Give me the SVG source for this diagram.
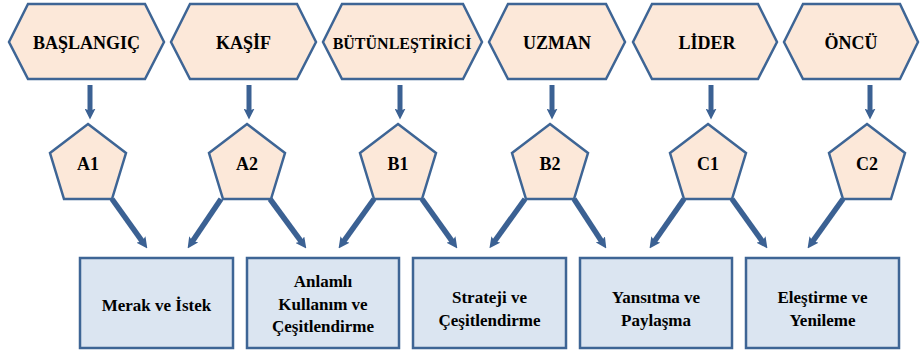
<svg xmlns="http://www.w3.org/2000/svg" width="921" height="353" viewBox="0 0 921 353">
<style>
.hex{fill:#fce8d9;stroke:#3e6595;stroke-width:2.5;stroke-linejoin:miter}
.pent{fill:#fce8d9;stroke:#3e6595;stroke-width:2.5}
.box{fill:#dbe5f1;stroke:#3e6595;stroke-width:2.5}
.c{fill:none;stroke:#3b6193;stroke-width:5.5;marker-end:url(#ah)}
.d{fill:none;stroke:#3b6193;stroke-width:5;marker-end:url(#ah)}
</style>
<defs>
<marker id="ah" viewBox="0 0 10 10" refX="4" refY="5" markerWidth="11" markerHeight="11" markerUnits="userSpaceOnUse" orient="auto">
<path d="M0,0 L10,5 L0,10 L2,5 z" fill="#3b6193"/>
</marker>
</defs>
<g id="connectors">
<line class="d" x1="90" y1="85" x2="90" y2="113"/>
<line class="d" x1="249" y1="85" x2="249" y2="113"/>
<line class="d" x1="400" y1="85" x2="400" y2="113"/>
<line class="d" x1="552" y1="85" x2="552" y2="113"/>
<line class="d" x1="711" y1="85" x2="711" y2="113"/>
<line class="d" x1="870" y1="85" x2="870" y2="113"/>
<line class="c" x1="112" y1="199" x2="143.5" y2="243.1"/>
<line class="c" x1="221" y1="199" x2="191.3" y2="243"/>
<line class="c" x1="270" y1="199" x2="302.4" y2="243.2"/>
<line class="c" x1="374" y1="199" x2="342.4" y2="243.1"/>
<line class="c" x1="422" y1="199" x2="453.5" y2="243.1"/>
<line class="c" x1="525" y1="199" x2="493.3" y2="243"/>
<line class="c" x1="574" y1="199" x2="602.7" y2="243"/>
<line class="c" x1="684" y1="199" x2="653.3" y2="243"/>
<line class="c" x1="732" y1="199" x2="763.6" y2="243.1"/>
<line class="c" x1="843" y1="199" x2="811.4" y2="243.1"/>
</g>
<g font-family="Liberation Serif, Tinos, Times New Roman, DejaVu Serif, serif" font-weight="bold" fill="#000" text-anchor="middle">
<g id="hex-baslangic"><polygon class="hex" points="9,42 28,4 145,4 164,42 145,79 28,79"/><text font-size="18" x="86.5" y="49">BAŞLANGIÇ</text></g>
<g id="hex-kasif"><polygon class="hex" points="171,42 190,4 297,4 316,42 297,79 190,79"/><text font-size="18" x="243.5" y="49">KAŞİF</text></g>
<g id="hex-butunlestirici"><polygon class="hex" points="323,42 342,4 463,4 482,42 463,79 342,79"/><text font-size="16" x="402" y="49">BÜTÜNLEŞTİRİCİ</text></g>
<g id="hex-uzman"><polygon class="hex" points="489,42 508,4 606,4 625,42 606,79 508,79"/><text font-size="18" x="557" y="49">UZMAN</text></g>
<g id="hex-lider"><polygon class="hex" points="633,42 652,4 758,4 777,42 758,79 652,79"/><text font-size="18" x="707" y="49">LİDER</text></g>
<g id="hex-oncu"><polygon class="hex" points="784,42 803,4 900,4 918,42 900,79 803,79"/><text font-size="18" x="851" y="49">ÖNCÜ</text></g>
<g id="pent-a1"><polygon class="pent" points="88,124 126,153 112,199 64,199 50,153"/><text font-size="18" x="88" y="170">A1</text></g>
<g id="pent-a2"><polygon class="pent" points="247,124 285,153 271,199 223,199 209,153"/><text font-size="18" x="247" y="170">A2</text></g>
<g id="pent-b1"><polygon class="pent" points="398,124 436,153 422,199 374,199 360,153"/><text font-size="18" x="398" y="170">B1</text></g>
<g id="pent-b2"><polygon class="pent" points="550,124 588,153 574,199 526,199 512,153"/><text font-size="18" x="550" y="170">B2</text></g>
<g id="pent-c1"><polygon class="pent" points="708,124 746,153 732,199 684,199 670,153"/><text font-size="18" x="708" y="170">C1</text></g>
<g id="pent-c2"><polygon class="pent" points="867,124 905,153 891,199 843,199 829,153"/><text font-size="18" x="867" y="170">C2</text></g>
<g id="box-merak"><rect class="box" x="80" y="258" width="153" height="90"/><text font-size="17" x="156.5" y="311">Merak ve İstek</text></g>
<g id="box-anlamli"><rect class="box" x="247" y="258" width="152" height="90"/><text font-size="17" x="323" y="287">Anlamlı</text><text font-size="17" x="323" y="310">Kullanım ve</text><text font-size="17" x="323" y="332">Çeşitlendirme</text></g>
<g id="box-strateji"><rect class="box" x="413" y="258" width="153" height="90"/><text font-size="17" x="489.5" y="303">Strateji ve</text><text font-size="17" x="489.5" y="326">Çeşitlendirme</text></g>
<g id="box-yansitma"><rect class="box" x="580" y="258" width="152" height="90"/><text font-size="17" x="656" y="303">Yansıtma ve</text><text font-size="17" x="656" y="326">Paylaşma</text></g>
<g id="box-elestirme"><rect class="box" x="746" y="258" width="153" height="90"/><text font-size="17" x="822.5" y="303">Eleştirme ve</text><text font-size="17" x="822.5" y="326">Yenileme</text></g>
</g>
</svg>
